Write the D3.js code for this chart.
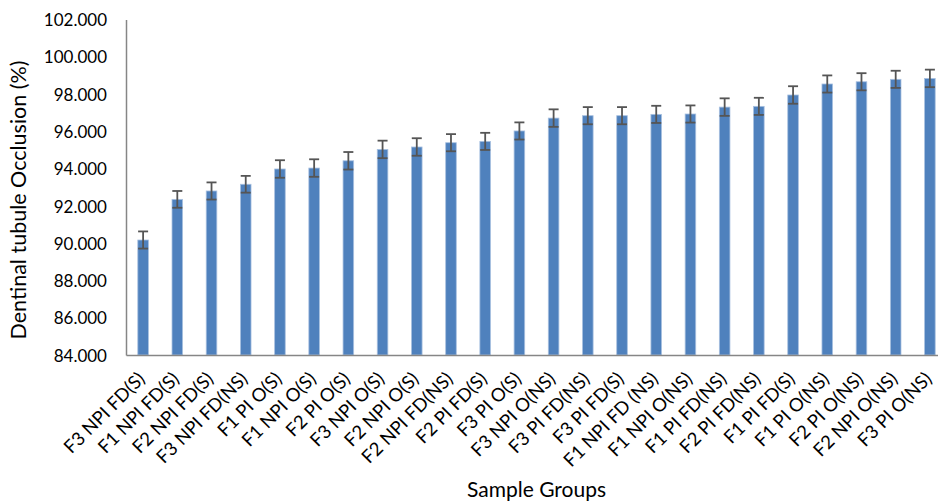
<!DOCTYPE html>
<html>
<head>
<meta charset="utf-8">
<script src="https://cdn.jsdelivr.net/npm/d3@7"></script>
<style>
  body { margin: 0; background: #fff; }
  text { font-family: Lato, "Open Sans", sans-serif; fill: #000; }
</style>
</head>
<body>
<svg id="graph" width="938" height="503"></svg>
<script>
// Sample groups, in plotted order
var groups = ["F3 NPI FD(S)", "F1 NPI FD(S)", "F2 NPI FD(S)", "F3 NPI FD(NS)",
    "F1 PI O(S)", "F1 NPI O(S)", "F2 PI O(S)", "F3 NPI O(S)", "F2 NPI O(S)",
    "F2 NPI FD(NS)", "F2 PI FD(S)", "F3 PI O(S)", "F3 NPI O(NS)", "F3 PI FD(NS)",
    "F3 PI FD(S)", "F1 NPI FD (NS)", "F1 NPI O(NS)", "F1 PI FD(NS)", "F2 PI FD(NS)",
    "F1 PI FD(S)", "F1 PI O(NS)", "F2 PI O(NS)", "F2 NPI O(NS)", "F3 PI O(NS)"];

// Mean occlusion (%) for each group
var occlusion = [90.17, 92.35, 92.80, 93.16, 93.98, 94.03, 94.42, 95.03, 95.16,
    95.39, 95.46, 96.02, 96.71, 96.84, 96.84, 96.91, 96.93, 97.30, 97.34,
    97.95, 98.54, 98.66, 98.79, 98.84];

// Error (+/-) for each group
var errors = [0.46, 0.45, 0.46, 0.45, 0.47, 0.47, 0.47, 0.47, 0.47,
    0.46, 0.46, 0.46, 0.47, 0.46, 0.46, 0.46, 0.46, 0.47, 0.46,
    0.47, 0.46, 0.46, 0.46, 0.47];

// Y tick values
var yTicks = [84, 86, 88, 90, 92, 94, 96, 98, 100, 102];

var svg = d3.select("#graph"),
    margin = {top: 19.5, left: 126, bottom: 355};

// Plot area runs a little past the right edge of the picture
var xScale = d3.scaleBand().domain(groups).range([margin.left, 947]).paddingInner(0.69).paddingOuter(0.345);
var yScale = d3.scaleLinear().domain([84, 102]).range([margin.bottom, margin.top]);

// Bars
svg.append("g").selectAll("rect").data(groups).enter().append("rect")
    .attr("x", d => xScale(d))
    .attr("width", xScale.bandwidth())
    .attr("y", (d, i) => yScale(occlusion[i]))
    .attr("height", (d, i) => yScale(84) - yScale(occlusion[i]))
    .attr("fill", "#4f81bd")
    .attr("stroke", "#a9c1e0")
    .attr("stroke-width", 0.8);

// Error bars
var eb = svg.append("g").attr("stroke", "#555").attr("stroke-width", 1.8);
groups.forEach(function(g, i) {
    var cx = xScale(g) + xScale.bandwidth() / 2,
        lo = yScale(occlusion[i] - errors[i]),
        hi = yScale(occlusion[i] + errors[i]);
    eb.append("line").attr("x1", cx).attr("x2", cx).attr("y1", lo).attr("y2", hi);
    eb.append("line").attr("x1", cx - 5).attr("x2", cx + 5).attr("y1", lo).attr("y2", lo);
    eb.append("line").attr("x1", cx - 5).attr("x2", cx + 5).attr("y1", hi).attr("y2", hi);
});

// Y axis
var yAxis = d3.axisLeft(yScale).tickValues(yTicks).tickSize(0).tickPadding(19)
    .tickFormat(d3.format(".3f"));
var gy = svg.append("g").attr("transform", "translate(" + margin.left + ",0)").call(yAxis);
gy.select(".domain").attr("stroke", "#868686").attr("stroke-width", 1.5);
gy.selectAll("text").style("font-size", "17px").attr("dy", "0.36em");

// X axis
var xAxis = d3.axisBottom(xScale).tickSize(0);
var gx = svg.append("g").attr("transform", "translate(0," + margin.bottom + ")").call(xAxis);
gx.select(".domain").attr("stroke", "#868686").attr("stroke-width", 1.5);
gx.selectAll("text")
    .style("font-size", "18.5px")
    .attr("text-anchor", "end")
    .attr("dy", null)
    .attr("y", 0)
    .attr("transform", "translate(3,25) rotate(-45)");

// Axis titles
svg.append("text").attr("x", (margin.left + 947) / 2).attr("y", 497).attr("text-anchor", "middle")
    .style("font-size", "21px").text("Sample Groups");
svg.append("text").attr("transform", "translate(26,200) rotate(-90)").attr("text-anchor", "middle")
    .style("font-size", "21.5px").text("Dentinal tubule Occlusion (%)");
</script>
</body>
</html>
